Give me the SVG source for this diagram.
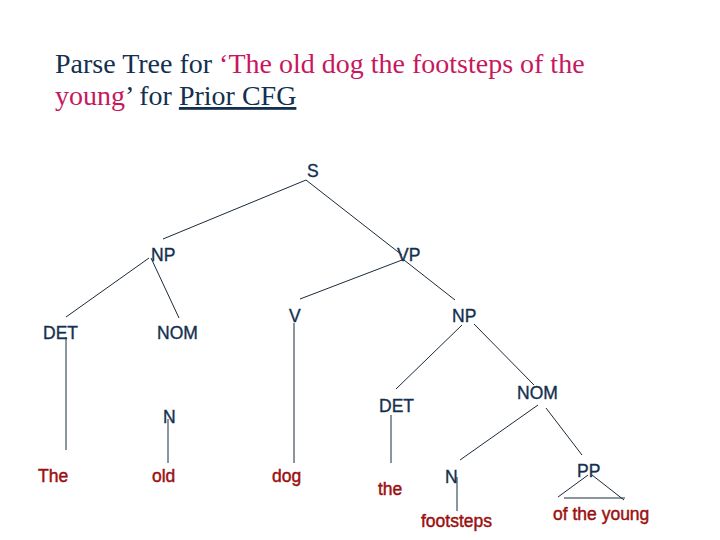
<svg xmlns="http://www.w3.org/2000/svg" width="720" height="540" viewBox="0 0 720 540">
<style>
.title{font-family:"Liberation Serif","Times New Roman",serif;font-size:28px;fill:#13304f}
.pink{fill:#c8175d}
.n{font-family:"Liberation Sans",Arial,sans-serif;font-size:17.5px;fill:#13304f;stroke:#13304f;stroke-width:0.35}
.w{font-family:"Liberation Sans",Arial,sans-serif;font-size:17.5px;fill:#9b1010;stroke:#9b1010;stroke-width:0.45}
.e{stroke:#1a2a3a;stroke-width:1;fill:none}
</style>
<rect width="720" height="540" fill="#ffffff"/>
<g id="title">
<text class="title" x="55" y="73">Parse Tree for <tspan class="pink">‘The old dog the footsteps of the</tspan></text>
<text class="title" x="55" y="105"><tspan class="pink">young</tspan>’ for <tspan text-decoration="underline">Prior CFG</tspan></text>
</g>
<g id="connectors">
<line class="e" x1="306" y1="180" x2="163" y2="239"/>
<line class="e" x1="306" y1="180" x2="402" y2="255"/>
<line class="e" x1="149" y1="258" x2="66" y2="317"/>
<line class="e" x1="151" y1="258" x2="179" y2="318"/>
<line class="e" x1="402" y1="260" x2="300" y2="299"/>
<line class="e" x1="404" y1="260" x2="455" y2="300"/>
<line class="e" x1="66" y1="337" x2="66" y2="450"/>
<line class="e" x1="294" y1="323" x2="294" y2="463"/>
<line class="e" x1="168" y1="419" x2="168" y2="463"/>
<line class="e" x1="462" y1="325" x2="396" y2="389"/>
<line class="e" x1="474" y1="324" x2="534" y2="385"/>
<line class="e" x1="391" y1="415" x2="391" y2="463"/>
<line class="e" x1="538" y1="405" x2="460" y2="460"/>
<line class="e" x1="546" y1="408" x2="582" y2="455"/>
<line class="e" x1="457" y1="477" x2="457" y2="511"/>
<line class="e" x1="588" y1="475" x2="558" y2="497"/>
<line class="e" x1="592" y1="475" x2="624" y2="500"/>
<line class="e" x1="564" y1="498" x2="625" y2="498"/>
</g>
<g id="S"><text class="n" x="307" y="177">S</text></g>
<g id="NP1"><text class="n" x="151" y="261">NP</text></g>
<g id="VP"><text class="n" x="397" y="261">VP</text></g>
<g id="DET1"><text class="n" x="43" y="339">DET</text></g>
<g id="NOM1"><text class="n" x="157" y="339">NOM</text></g>
<g id="N1"><text class="n" x="163" y="423">N</text></g>
<g id="V"><text class="n" x="289" y="322">V</text></g>
<g id="NP2"><text class="n" x="452" y="322">NP</text></g>
<g id="DET2"><text class="n" x="379" y="412">DET</text></g>
<g id="NOM2"><text class="n" x="517" y="399">NOM</text></g>
<g id="N2"><text class="n" x="445" y="483">N</text></g>
<g id="PP"><text class="n" x="577" y="477">PP</text></g>
<g id="w-The"><text class="w" x="38" y="482">The</text></g>
<g id="w-old"><text class="w" x="152" y="482">old</text></g>
<g id="w-dog"><text class="w" x="272" y="482">dog</text></g>
<g id="w-the"><text class="w" x="378" y="495">the</text></g>
<g id="w-footsteps"><text class="w" x="421" y="527">footsteps</text></g>
<g id="w-ofyoung"><text class="w" x="553" y="520">of the young</text></g>
</svg>
